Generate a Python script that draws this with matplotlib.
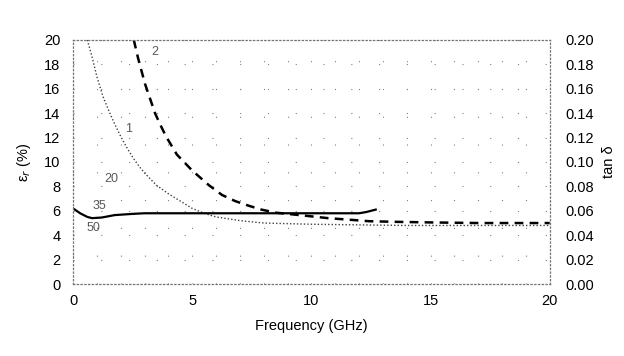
import matplotlib.pyplot as plt
from matplotlib.ticker import MultipleLocator

plt.rcParams['font.family'] = ['Liberation Sans', 'DejaVu Sans']

# curve "2" (thick dashed)
f2 = [2.55, 2.73, 3.02, 3.23, 3.44, 3.65, 3.9, 4.36, 5.0, 5.7, 6.25, 6.8, 7.4, 7.9, 8.5, 9.5, 10.7, 11.75, 12.4, 13.5, 15, 17, 20]
e2 = [20.0, 18.5, 16.4, 15.2, 14.0, 13.1, 12.1, 10.6, 9.3, 8.1, 7.3, 6.8, 6.4, 6.1, 5.85, 5.65, 5.4, 5.25, 5.15, 5.1, 5.05, 5.0, 5.0]

# curve "1" (thin dotted)
f1 = [0.6, 0.8, 1.0, 1.25, 1.5, 1.75, 2.0, 2.25, 2.5, 2.75, 3.0, 3.5, 4.0, 4.5, 5.0, 5.5, 6.0, 7.0, 8.0, 10, 14, 20]
e1 = [20.0, 18.6, 17.0, 15.4, 14.2, 13.1, 12.1, 11.2, 10.4, 9.7, 9.1, 8.1, 7.4, 6.8, 6.2, 5.8, 5.5, 5.2, 5.0, 4.9, 4.8, 4.8]

# solid curve
fs = [0, 0.3, 0.6, 0.8, 1.2, 1.75, 2.5, 3, 4, 6, 8, 10, 12, 12.3, 12.7]
es = [6.2, 5.8, 5.5, 5.4, 5.45, 5.65, 5.75, 5.8, 5.8, 5.8, 5.8, 5.8, 5.8, 5.9, 6.1]

labels = ["2", "1", "20", "35", "50"]
label_pos = [(3.3, 19.0), (2.2, 12.7), (1.3, 8.6), (0.8, 6.4), (0.55, 4.6)]

fig = plt.figure(figsize=(6.24, 3.56), dpi=100)
ax = fig.add_axes([0.117, 0.202, 0.764, 0.686])

ax.plot(f2, e2, color="black", linestyle=(0, (3.5, 2.5)), linewidth=1.8)
ax.plot(f1, e1, color="0.25", linestyle=(0, (1, 1.5)), linewidth=1.0)
ax.plot(fs, es, color="black", linewidth=1.6)

for txt, (x, y) in zip(labels, label_pos):
    ax.text(x, y, txt, fontsize=9, color="0.35", ha="left", va="center")

ax.set_xlim(0, 20)
ax.set_ylim(0, 20)
ax.xaxis.set_major_locator(MultipleLocator(5))
ax.xaxis.set_minor_locator(MultipleLocator(1))
ax.yaxis.set_major_locator(MultipleLocator(2))
ax.tick_params(which="both", length=0, labelsize=10.5)
ax.tick_params(axis="x", pad=7)
ax.tick_params(axis="y", pad=9)
ax.grid(True, which="both", color="0.5", linestyle=(0, (1, 24)), linewidth=0.8)
for s in ax.spines.values():
    s.set_linestyle((0, (1, 2)))
    s.set_color("0.45")
    s.set_linewidth(0.9)

ax.set_xlabel("Frequency (GHz)", fontsize=10.5, labelpad=8)
ax.set_ylabel("ε$_r$ (%)", fontsize=10.5, labelpad=8)

ax2 = ax.twinx()
ax2.set_ylim(0, 0.20)
ax2.yaxis.set_major_locator(MultipleLocator(0.02))
ax2.yaxis.set_major_formatter(plt.FormatStrFormatter("%.2f"))
ax2.tick_params(length=0, labelsize=10.5, pad=11)
ax2.set_ylabel("tan δ", fontsize=10.5, labelpad=6)
for s in ax2.spines.values():
    s.set_visible(False)

fig.savefig("out.png", dpi=100)
